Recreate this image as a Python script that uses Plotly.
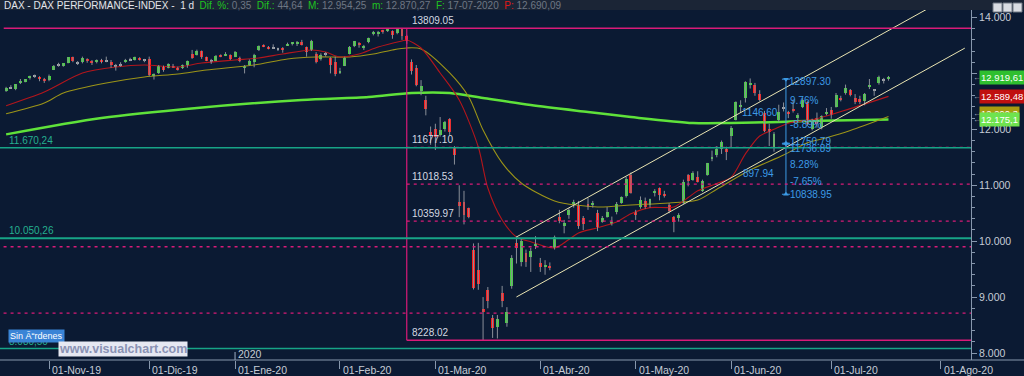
import pandas as pd
import plotly.graph_objects as go

# ---------------- calendar (Xetra trading days) ----------------
holidays = ["2019-12-24", "2019-12-25", "2019-12-26", "2019-12-31", "2020-01-01",
            "2020-04-10", "2020-04-13", "2020-05-01", "2020-06-01"]
calendar = [d for d in pd.bdate_range("2019-10-21", "2020-08-31")
            if d.strftime("%Y-%m-%d") not in holidays]
pos = {d.strftime("%Y-%m-%d"): i for i, d in enumerate(calendar)}

# ---------------- daily OHLC, 21-Oct-2019 .. 17-Jul-2020 ----------------
opens = [12680, 12740, 12730, 12820, 12860, 12920, 12950, 12930, 12900,
         12880, 13070, 13140, 13150, 13190, 13290, 13190, 13200, 13260, 13220, 13200, 13240, 13210, 13200, 13130, 13150, 13200, 13250, 13240, 13280, 13240,
         13250, 12950, 13000, 13110, 13100, 13140, 13090, 13090, 13150, 13340, 13330, 13400, 13290, 13220, 13230, 13330, 13320, 13330,
         13290, 13270, 13100, 13150, 13200, 13420, 13500, 13480, 13470, 13430, 13450, 13500, 13530, 13540, 13560, 13470, 13420, 13350, 13250, 13340, 13280, 13200,
         13000, 13140, 13350, 13490, 13540, 13470, 13560, 13700, 13700, 13760, 13760, 13760, 13720, 13800, 13670, 13200, 13100, 12680, 12530, 11960,
         12000, 11900, 12000, 12180, 11680, 10700, 10700, 10590, 9850, 9480, 8780, 9130, 8630, 8470, 9070, 8540, 9200, 9970, 9630, 9790, 9720, 9920,
         9610, 9540, 9560, 9880, 10430, 10280, 10470, 10660, 10650, 10410, 10660, 10650, 10510, 10350, 10430, 10300, 10530, 10680, 10800, 11180,
         10530, 10620, 10720, 10640, 10860, 10950, 10840, 10650, 10440, 10420, 10680, 11180, 11100, 11150, 10900, 11180, 11480, 11550, 11650, 11650,
         11880, 12170, 12400, 12555, 12800, 12800, 12640, 12300, 12000, 11690, 12165, 12370, 12300, 12350, 12210, 12400, 12480, 12000, 12200, 12050, 12280,
         12350, 12400, 12550, 12650, 12700, 12560, 12540, 12500, 12750, 12700, 12820, 12880, 12900]
highs = [12760, 12790, 12810, 12900, 12900, 12960, 12980, 12950, 12920,
         12980, 13150, 13190, 13180, 13290, 13300, 13220, 13300, 13270, 13240, 13250, 13260, 13300, 13240, 13170, 13200, 13260, 13280, 13300, 13290, 13260,
         13300, 13000, 13150, 13140, 13180, 13170, 13120, 13160, 13230, 13420, 13425, 13410, 13300, 13260, 13330, 13340, 13380, 13340,
         13400, 13300, 13150, 13250, 13350, 13500, 13520, 13490, 13520, 13460, 13470, 13550, 13560, 13580, 13600, 13480, 13600, 13380, 13360, 13380, 13290, 13300,
         13100, 13300, 13490, 13580, 13560, 13510, 13640, 13760, 13760, 13780, 13790, 13770, 13800, 13809, 13690, 13250, 13150, 12880, 12600, 12050,
         12100, 12220, 12150, 12200, 11700, 11000, 10900, 10600, 9960, 9970, 9000, 9180, 8680, 8680, 9200, 8820, 9750, 10090, 10050, 9850, 9880, 10090,
         9700, 9660, 9620, 10100, 10560, 10380, 10590, 10740, 10720, 10450, 10770, 10720, 10560, 10450, 10610, 10440, 10700, 10800, 11150, 11230,
         10560, 10800, 10780, 10760, 10930, 10960, 10900, 10680, 10450, 10500, 11100, 11200, 11250, 11250, 11100, 11400, 11620, 11700, 11800, 11690,
         12060, 12500, 12520, 12860, 12910, 12830, 12700, 12330, 12100, 11950, 12440, 12480, 12330, 12530, 12290, 12560, 12500, 12190, 12300, 12250, 12380,
         12400, 12650, 12600, 12800, 12720, 12630, 12600, 12650, 12900, 12720, 12960, 12920, 12954.25]
lows = [12670, 12730, 12700, 12810, 12840, 12890, 12920, 12860, 12830,
        12860, 13060, 13120, 13120, 13180, 13200, 13150, 13180, 13190, 13150, 13180, 13180, 13200, 13100, 13050, 13120, 13190, 13220, 13230, 13230, 13200,
        12950, 12890, 12990, 13030, 13090, 13100, 13050, 13080, 13100, 13260, 13320, 13260, 13220, 13170, 13220, 13290, 13310, 13240,
        13290, 13200, 13000, 13140, 13110, 13400, 13470, 13430, 13440, 13400, 13370, 13490, 13500, 13490, 13500, 13300, 13400, 13180, 13230, 13300, 13000, 12950,
        12990, 13130, 13340, 13470, 13460, 13420, 13540, 13680, 13660, 13710, 13740, 13620, 13700, 13600, 13530, 12980, 12770, 12610, 12250, 11724,
        11630, 11870, 11960, 11900, 11370, 10430, 10300, 10410, 9136, 9130, 8228.02, 8800, 8270, 8260, 8820, 8470, 9150, 9600, 9550, 9540, 9450, 9860,
        9450, 9400, 9480, 9850, 10320, 10140, 10400, 10600, 10220, 10200, 10560, 10600, 10180, 10330, 10420, 10280, 10480, 10670, 10780, 10850,
        10380, 10580, 10580, 10600, 10800, 10730, 10780, 10500, 10160, 10350, 10670, 10980, 11080, 11050, 10880, 11170, 11430, 11500, 11560, 11450,
        11680, 12160, 12300, 12480, 12730, 12600, 12500, 11950, 11700, 11600, 12130, 12320, 12200, 12300, 12120, 12380, 12060, 11980, 12030, 12000, 12250,
        12190, 12390, 12500, 12620, 12590, 12450, 12450, 12430, 12720, 12600, 12800, 12820, 12870.27]
closes = [12748, 12754, 12802, 12872, 12895, 12942, 12940, 12910, 12867,
          12961, 13136, 13148, 13179, 13289, 13228, 13198, 13283, 13230, 13180, 13242, 13207, 13221, 13148, 13137, 13164, 13246, 13236, 13287, 13245, 13236,
          12965, 12989, 13140, 13055, 13167, 13105, 13071, 13145, 13221, 13283, 13407, 13287, 13222, 13212, 13319, 13300, 13337, 13249,
          13386, 13219, 13127, 13227, 13321, 13495, 13483, 13452, 13456, 13432, 13430, 13526, 13549, 13556, 13515, 13389, 13577, 13205, 13324, 13345, 13157, 12982,
          13046, 13282, 13479, 13575, 13514, 13494, 13627, 13749, 13745, 13744, 13784, 13681, 13789, 13664, 13579, 13035, 12790, 12775, 12367, 11890,
          11857, 11985, 12128, 11945, 11542, 10625, 10475, 10439, 9161, 9232, 8742, 8939, 8441, 8610, 8929, 8742, 9701, 9874, 10001, 9633, 9816, 9936,
          9544, 9571, 9525, 10075, 10356, 10333, 10565, 10697, 10280, 10302, 10626, 10676, 10250, 10416, 10514, 10336, 10660, 10796, 11108, 10862,
          10467, 10730, 10607, 10759, 10905, 10825, 10820, 10542, 10338, 10465, 11059, 11075, 11223, 11066, 11074, 11391, 11505, 11657, 11781, 11587,
          12021, 12487, 12431, 12848, 12820, 12642, 12530, 11970, 11949, 11911, 12315, 12382, 12281, 12331, 12263, 12523, 12094, 12177, 12089, 12232, 12311,
          12260, 12608, 12528, 12733, 12617, 12494, 12489, 12633, 12800, 12697, 12931, 12874, 12919.61]

# ---------------- moving averages ----------------
ma_red_dates = ["2019-10-21", "2019-10-31", "2019-11-12", "2019-11-21", "2019-11-29", "2019-12-10", "2019-12-17",
                "2020-01-02", "2020-01-09", "2020-01-16", "2020-01-24", "2020-01-29", "2020-02-03", "2020-02-07",
                "2020-02-13", "2020-02-20", "2020-02-21", "2020-02-26", "2020-03-03", "2020-03-09", "2020-03-13",
                "2020-03-17", "2020-03-20", "2020-03-25", "2020-03-30", "2020-04-06", "2020-04-09", "2020-04-15",
                "2020-04-21", "2020-04-27", "2020-04-30", "2020-05-07", "2020-05-14", "2020-05-19", "2020-05-21",
                "2020-05-27", "2020-06-02", "2020-06-05", "2020-06-10", "2020-06-15", "2020-06-18", "2020-06-26",
                "2020-07-07", "2020-07-17"]
ma_red_vals = [12423, 12668, 13007, 13115, 13151, 13115, 13186,
               13240, 13276, 13347, 13419, 13383, 13294, 13347,
               13472, 13580, 13598, 13455, 13008, 12525, 11684,
               10950, 10379, 10075, 9990, 9878, 10030, 10146,
               10240, 10343, 10490, 10600, 10611, 10780, 10900,
               11030, 11140, 11560, 11880, 12000, 12110, 12190,
               12370, 12589.48]

ma_olive_dates = ["2019-10-21", "2019-10-31", "2019-11-06", "2019-11-19", "2019-11-29", "2019-12-10", "2019-12-18",
                  "2020-01-08", "2020-01-17", "2020-01-27", "2020-02-05", "2020-02-12", "2020-02-18", "2020-02-21",
                  "2020-02-26", "2020-03-05", "2020-03-11", "2020-03-16", "2020-03-20", "2020-03-26", "2020-04-06",
                  "2020-04-21", "2020-04-30", "2020-05-13", "2020-05-21", "2020-05-27", "2020-06-08", "2020-06-17",
                  "2020-06-24", "2020-06-30", "2020-07-07", "2020-07-17"]
ma_olive_vals = [12280, 12471, 12650, 12829, 12936, 12990, 13061,
                 13151, 13258, 13294, 13294, 13347, 13419, 13455,
                 13437, 13008, 12578, 11988, 11400, 11040, 10720,
                 10611, 10647, 10683, 10736, 10930, 11273, 11540,
                 11760, 11850, 11980, 12230]

ma_green_dates = ["2019-10-21", "2019-11-18", "2019-12-16", "2020-01-22", "2020-02-11", "2020-02-24", "2020-03-05",
                  "2020-03-16", "2020-03-30", "2020-04-17", "2020-04-30", "2020-05-20", "2020-06-02", "2020-06-16",
                  "2020-06-24", "2020-07-17"]
ma_green_vals = [11910, 12203, 12382, 12525, 12578, 12650, 12650,
                 12560, 12434, 12310, 12220, 12113, 12113, 12131,
                 12149, 12175.1]

# ---------------- drawing-tool levels ----------------
fib_date = "2020-02-21"
fib_high = 13809.05
fib_low = 8228.02
fib_levels = [11677.10, 11018.53, 10359.97]
extra_dashed = [9900, 8715]
teal_levels = [11670.24, 10050.26, 8080.50]
teal_labels = ["11.670,24", "10.050,26", "8.080,50"]

channel_dates = ["2020-03-25", "2020-08-10"]
channel_upper = [10075, 14525]
channel_lower = [9002, 13452]

measure_date = "2020-06-17"
measure_top, measure_mid1, measure_mid2, measure_bot = 12897.30, 11750.79, 11736.89, 10838.95
measure_up_pct = ["9.76%", "-8.89%"]
measure_dn_pct = ["8.28%", "-7.65%"]

month_dates = ["2019-11-01", "2019-12-02", "2020-01-02", "2020-02-03", "2020-03-02", "2020-04-01",
               "2020-05-04", "2020-06-02", "2020-07-01", "2020-08-03"]
month_labels = ["01-Nov-19", "01-Dic-19", "01-Ene-20", "01-Feb-20", "01-Mar-20", "01-Abr-20",
                "01-May-20", "01-Jun-20", "01-Jul-20", "01-Ago-20"]
y_ticks = [8000, 9000, 10000, 11000, 12000, 13000, 14000]
y_tick_text = ["8.000", "9.000", "10.000", "11.000", "12.000", "", "14.000"]

last_labels = [(12919.61, "12.919,61", "#2fbf2f"), (12589.48, "12.589,48", "#c01010"),
               (12290.30, "12.290,3", "#a89b10"), (12175.10, "12.175,1", "#6fe34f")]

# ---------------- geometry ----------------
W, H = 1024, 376
ML, MR, MT, MB = 0, 53, 10, 16
PW, PH = W - ML - MR, H - MT - MB
BG = "#0b1a33"
FONT = "Liberation Sans"


def px_x(p):
    return (p - ML) / PW


def px_y(p):
    return (H - MB - p) / PH


fig = go.Figure()

n = min(len(opens), len(highs), len(lows), len(closes))
xs = list(range(n))

# moving averages
fig.add_trace(go.Scatter(x=[pos[d] for d in ma_green_dates], y=ma_green_vals, mode="lines",
                         line=dict(color="#5fe23a", width=2.5, shape="spline", smoothing=0.8), hoverinfo="skip"))
fig.add_trace(go.Scatter(x=[pos[d] for d in ma_olive_dates], y=ma_olive_vals, mode="lines",
                         line=dict(color="#9c9418", width=1.1, shape="spline", smoothing=0.8), hoverinfo="skip"))
fig.add_trace(go.Scatter(x=[pos[d] for d in ma_red_dates], y=ma_red_vals, mode="lines",
                         line=dict(color="#b3161c", width=1.1, shape="spline", smoothing=0.8), hoverinfo="skip"))

# wicks
wx, wy = [], []
for i in xs:
    wx += [i, i, None]
    wy += [lows[i], highs[i], None]
fig.add_trace(go.Scatter(x=wx, y=wy, mode="lines", line=dict(color="#8a8f98", width=1), hoverinfo="skip"))

# bodies
bases, heights, colors = [], [], []
for i in xs:
    o, c = opens[i], closes[i]
    lo = min(o, c)
    h = abs(c - o)
    if h < 15:
        colors.append("#a0a4aa")
        h = 18
        lo = (o + c) / 2 - 9
    elif c > o:
        colors.append("#45d13f")
    else:
        colors.append("#ff1c1c")
    bases.append(lo)
    heights.append(h)
fig.add_trace(go.Bar(x=xs, y=heights, base=bases, width=0.62,
                     marker=dict(color=colors, line=dict(width=0)), hoverinfo="skip"))

# channel
cx = [pos[d] for d in channel_dates]
fig.add_trace(go.Scatter(x=cx, y=channel_upper, mode="lines", line=dict(color="#e9e4b2", width=1), hoverinfo="skip"))
fig.add_trace(go.Scatter(x=cx, y=channel_lower, mode="lines", line=dict(color="#e9e4b2", width=1), hoverinfo="skip"))

# measurement tool
mx = pos[measure_date] + 0.5
BLUE = "#3d9be6"
fig.add_trace(go.Scatter(x=[mx, mx], y=[measure_bot, measure_top], mode="lines",
                         line=dict(color=BLUE, width=1), hoverinfo="skip"))
fig.add_trace(go.Scatter(x=[mx, mx, mx, mx], y=[measure_top, measure_mid1, measure_mid2, measure_bot],
                         mode="markers", marker=dict(symbol=["triangle-down", "triangle-up", "triangle-down", "triangle-up"],
                                                     size=5, color=BLUE, line=dict(width=0)),
                         hoverinfo="skip"))

shapes = []
x_end = 210
fx = pos[fib_date]
MAG = "#d91b78"
# fib / horizontal lines
shapes.append(dict(type="line", xref="x", yref="y", x0=-0.5, x1=x_end, y0=fib_high, y1=fib_high,
                   line=dict(color=MAG, width=1.5)))
shapes.append(dict(type="line", xref="x", yref="y", x0=fx, x1=x_end, y0=fib_low, y1=fib_low,
                   line=dict(color=MAG, width=1.5)))
shapes.append(dict(type="line", xref="x", yref="y", x0=fx, x1=fx, y0=fib_low, y1=fib_high,
                   line=dict(color=MAG, width=1.2)))
for lv in fib_levels:
    shapes.append(dict(type="line", xref="x", yref="y", x0=fx, x1=x_end, y0=lv, y1=lv,
                       line=dict(color=MAG, width=1.3, dash="3px,4px")))
for lv in extra_dashed:
    shapes.append(dict(type="line", xref="x", yref="y", x0=-2, x1=x_end, y0=lv, y1=lv,
                       line=dict(color=MAG, width=1.3, dash="3px,4px")))
for lv, wd in zip(teal_levels, [1.5, 2, 1.5]):
    shapes.append(dict(type="line", xref="x", yref="y", x0=-2, x1=x_end, y0=lv, y1=lv,
                       line=dict(color="#17a487", width=wd)))
# measurement caps
for lv in [measure_top, measure_bot, measure_mid1, measure_mid2]:
    shapes.append(dict(type="line", xref="x", yref="y", xsizemode="pixel", xanchor=mx, x0=-4, x1=4,
                       y0=lv, y1=lv, line=dict(color=BLUE, width=1)))

# header bar
shapes.append(dict(type="rect", xref="paper", yref="paper", x0=px_x(0), x1=px_x(W), y0=px_y(10), y1=px_y(0),
                   fillcolor="#1b2536", line=dict(width=0), layer="above"))
# window buttons
for k in range(3):
    shapes.append(dict(type="rect", xref="paper", yref="paper", x0=px_x(993 + 10 * k), x1=px_x(1002 + 10 * k),
                       y0=px_y(12), y1=px_y(3), fillcolor="#d9dce2", line=dict(color="#707884", width=1),
                       layer="above"))
# bottom axis line spanning full width
shapes.append(dict(type="line", xref="paper", yref="paper", x0=px_x(0), x1=px_x(W), y0=0, y1=0,
                   line=dict(color="#8797ad", width=1.2)))
# 2020 year marker
shapes.append(dict(type="line", xref="x", yref="paper", x0=pos["2020-01-02"], x1=pos["2020-01-02"],
                   y0=0, y1=px_y(352), line=dict(color="#8797ad", width=1.2)))

ann = []
LBL = "#d4d9e2"
ann.append(dict(xref="x", yref="y", x=fx, y=fib_high, text=f"{fib_high:.2f}", showarrow=False,
                xanchor="left", yanchor="bottom", xshift=3, yshift=0, font=dict(color=LBL, size=10, family=FONT)))
for lv in [fib_levels[0], fib_levels[1], fib_levels[2], fib_low]:
    ann.append(dict(xref="x", yref="y", x=fx, y=lv, text=f"{lv:.2f}", showarrow=False,
                    xanchor="left", yanchor="bottom", xshift=3, yshift=0, font=dict(color=LBL, size=10, family=FONT)))
for lv, t in zip(teal_levels, teal_labels):
    ann.append(dict(xref="paper", yref="y", x=px_x(7), y=lv, text=t, showarrow=False,
                    xanchor="left", yanchor="bottom", yshift=0, font=dict(color="#25b08f", size=10, family=FONT)))

# measurement labels
up_mid = (measure_top + measure_mid1) / 2
dn_mid = (measure_mid2 + measure_bot) / 2
mfont = dict(color=BLUE, size=10, family=FONT)
ann.append(dict(xref="x", yref="y", x=mx, y=measure_top, text=f"{measure_top:.2f}", showarrow=False,
                xanchor="left", yanchor="middle", xshift=1, yshift=-2, font=mfont))
ann.append(dict(xref="x", yref="y", x=mx, y=up_mid, text=measure_up_pct[0], showarrow=False,
                xanchor="left", yanchor="middle", xshift=2, yshift=11, font=mfont))
ann.append(dict(xref="x", yref="y", x=mx, y=up_mid, text=f"{measure_top - measure_mid1 + 0.09:.2f}",
                showarrow=False, xanchor="right", yanchor="middle", xshift=-6, yshift=-1, font=mfont))
ann.append(dict(xref="x", yref="y", x=mx, y=up_mid, text=measure_up_pct[1], showarrow=False,
                xanchor="left", yanchor="middle", xshift=2, yshift=-13, font=mfont))
ann.append(dict(xref="x", yref="y", x=mx, y=measure_mid1, text=f"{measure_mid1:.2f}", showarrow=False,
                xanchor="left", yanchor="middle", xshift=2, yshift=2, font=mfont))
ann.append(dict(xref="x", yref="y", x=mx, y=measure_mid2, text=f"{measure_mid2:.2f}", showarrow=False,
                xanchor="left", yanchor="middle", xshift=2, yshift=-4, font=mfont))
ann.append(dict(xref="x", yref="y", x=mx, y=dn_mid, text=measure_dn_pct[0], showarrow=False,
                xanchor="left", yanchor="middle", xshift=2, yshift=5, font=mfont))
ann.append(dict(xref="x", yref="y", x=mx, y=dn_mid, text=f"{measure_mid2 - measure_bot:.2f}",
                showarrow=False, xanchor="right", yanchor="middle", xshift=-10, yshift=-4, font=mfont))
ann.append(dict(xref="x", yref="y", x=mx, y=dn_mid, text=measure_dn_pct[1], showarrow=False,
                xanchor="left", yanchor="middle", xshift=2, yshift=-12, font=mfont))
ann.append(dict(xref="x", yref="y", x=mx, y=measure_bot, text=f"{measure_bot:.2f}", showarrow=False,
                xanchor="left", yanchor="middle", xshift=2, yshift=0, font=mfont))

# month labels
for d, t in zip(month_dates, month_labels):
    ann.append(dict(xref="x", yref="paper", x=pos[d], y=px_y(370), text=t, showarrow=False,
                    xanchor="left", yanchor="middle", xshift=1, font=dict(color="#c6ccd6", size=10.5, family=FONT)))
ann.append(dict(xref="x", yref="paper", x=pos["2020-01-02"], y=px_y(354), text="2020", showarrow=False,
                xanchor="left", yanchor="middle", xshift=1, font=dict(color="#c6ccd6", size=10.5, family=FONT)))

# right-hand value boxes
for v, t, c in last_labels:
    ann.append(dict(xref="paper", yref="y", x=px_x(971), y=v, text="\u2190", showarrow=False,
                    xanchor="left", yanchor="middle", font=dict(color="#b0b6c0", size=8, family=FONT)))
    ann.append(dict(xref="paper", yref="y", x=px_x(979), y=v, text=t, showarrow=False,
                    xanchor="left", yanchor="middle", bgcolor=c, borderpad=1,
                    font=dict(color="#ffffff", size=9.5, family=FONT)))

# header text
g = "#1fc41f"
v = "#6e7784"
sp = "&nbsp;&nbsp;"
header = ("DAX - DAX PERFORMANCE-INDEX -&nbsp; 1 d" + sp +
          f"<span style='color:{g}'>Dif. %:</span> <span style='color:{v}'>0,35</span>" + sp +
          f"<span style='color:{g}'>Dif.:</span> <span style='color:{v}'>44,64</span>" + sp +
          f"<span style='color:{g}'>M:</span> <span style='color:{v}'>12.954,25</span>" + sp +
          f"<span style='color:{g}'>m:</span> <span style='color:{v}'>12.870,27</span>" + sp +
          f"<span style='color:{g}'>F:</span> <span style='color:{v}'>17-07-2020</span>" + sp +
          f"<span style='color:#e01818'>P:</span> <span style='color:{v}'>12.690,09</span>")
ann.append(dict(xref="paper", yref="paper", x=px_x(2), y=px_y(5), text=header, showarrow=False,
                xanchor="left", yanchor="middle", font=dict(color="#e4e6ea", size=10, family=FONT)))

# status box and watermark
ann.append(dict(xref="paper", yref="paper", x=px_x(8), y=px_y(336), text="Sin \u00c3\u201crdenes", showarrow=False,
                xanchor="left", yanchor="middle", bgcolor="#3a84d6", borderpad=1,
                font=dict(color="#ffffff", size=9, family=FONT)))
ann.append(dict(xref="paper", yref="paper", x=px_x(58), y=px_y(349), text="<b>www.visualchart.com</b>",
                showarrow=False, xanchor="left", yanchor="middle", bgcolor="#e6e8f2", borderpad=0,
                font=dict(color="#8a92b4", size=12.5, family=FONT)))

fig.update_layout(
    width=W, height=H,
    margin=dict(l=ML, r=MR, t=MT, b=MB),
    paper_bgcolor=BG, plot_bgcolor=BG,
    showlegend=False,
    bargap=0,
    shapes=shapes,
    annotations=ann,
    xaxis=dict(range=[-1.28, 202.3], showgrid=False, zeroline=False, showticklabels=False,
               tickvals=[pos[d] for d in month_dates], ticks="outside", ticklen=8, tickcolor="#8797ad",
               tickwidth=1, showline=False, fixedrange=True),
    yaxis=dict(range=[7875, 14134], side="right", showgrid=False, zeroline=False,
               tickvals=y_ticks, ticktext=y_tick_text, ticks="outside", ticklen=5, tickcolor="#8797ad",
               tickfont=dict(color="#c6ccd6", size=10.5, family=FONT),
               showline=True, linecolor="#8797ad", linewidth=1,
               minor=dict(dtick=200, tick0=8000, ticks="outside", ticklen=3, tickcolor="#8797ad"),
               fixedrange=True),
)

fig.write_html("out.html")
